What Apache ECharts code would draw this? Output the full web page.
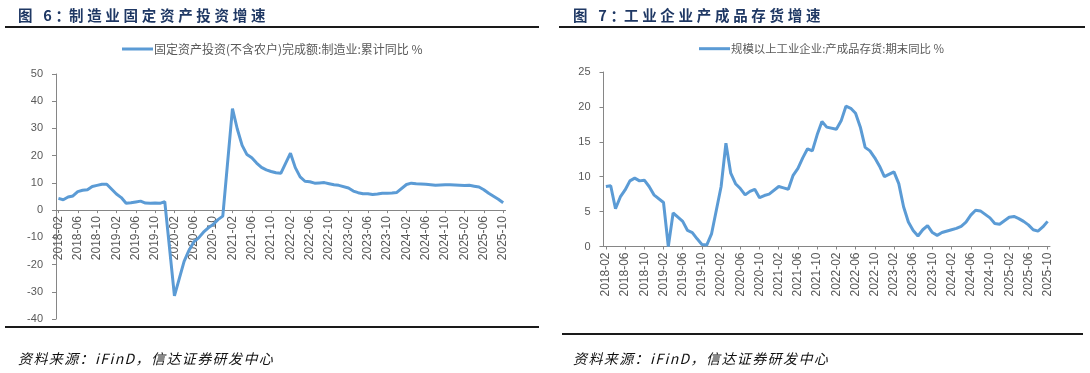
<!DOCTYPE html>
<html><head><meta charset="utf-8">
<script src="https://cdn.jsdelivr.net/npm/echarts@6/dist/echarts.min.js"></script>
<style>
body{margin:0;background:#fff;}
#wrap{position:relative;width:1090px;height:373px;overflow:hidden;background:#fff;}
#chart{position:absolute;left:0;top:0;width:1090px;height:373px;}
.t{position:absolute;font-family:"Noto Sans CJK SC";font-weight:bold;font-size:14.5px;line-height:20px;letter-spacing:3.7px;color:#1f3864;white-space:nowrap;}
.t .c{letter-spacing:-1px;}
.s{position:absolute;font-family:"Noto Sans CJK SC";font-style:italic;font-size:14px;line-height:18px;letter-spacing:1.4px;color:#111;white-space:nowrap;}
.r{position:absolute;height:2px;background:#1a1a1a;}
</style></head>
<body><div id="wrap"><div id="chart"></div>
<div class="t" style="left:18px;top:5px;">图 6<span class="c">：</span>制造业固定资产投资增速</div>
<div class="t" style="left:573px;top:5px;">图 7<span class="c">：</span>工业企业产成品存货增速</div>
<div class="r" style="left:5px;top:26px;width:534px;"></div>
<div class="r" style="left:559px;top:26px;width:526px;"></div>
<div class="r" style="left:5px;top:326px;width:534px;"></div>
<div class="r" style="left:562px;top:333px;width:521px;"></div>
<div class="s" style="left:18px;top:349px;">资料来源：iFinD，信达证券研发中心</div>
<div class="s" style="left:573px;top:349px;">资料来源：iFinD，信达证券研发中心</div>
</div>
<script>
var months = [
'2018-02','2018-03','2018-04','2018-05','2018-06','2018-07','2018-08','2018-09','2018-10','2018-11','2018-12',
'2019-01','2019-02','2019-03','2019-04','2019-05','2019-06','2019-07','2019-08','2019-09','2019-10','2019-11','2019-12',
'2020-01','2020-02','2020-03','2020-04','2020-05','2020-06','2020-07','2020-08','2020-09','2020-10','2020-11','2020-12',
'2021-01','2021-02','2021-03','2021-04','2021-05','2021-06','2021-07','2021-08','2021-09','2021-10','2021-11','2021-12',
'2022-01','2022-02','2022-03','2022-04','2022-05','2022-06','2022-07','2022-08','2022-09','2022-10','2022-11','2022-12',
'2023-01','2023-02','2023-03','2023-04','2023-05','2023-06','2023-07','2023-08','2023-09','2023-10','2023-11','2023-12',
'2024-01','2024-02','2024-03','2024-04','2024-05','2024-06','2024-07','2024-08','2024-09','2024-10','2024-11','2024-12',
'2025-01','2025-02','2025-03','2025-04','2025-05','2025-06','2025-07','2025-08','2025-09','2025-10'];

var fiName = '固定资产投资(不含农户)完成额:制造业:累计同比 %';
var fiValues = [
4.3,3.8,4.8,5.2,6.8,7.3,7.5,8.7,9.1,9.5,9.5,
null,5.9,4.6,2.5,2.7,3.0,3.3,2.6,2.5,2.6,2.5,3.1,
null,-31.5,-25.2,-18.8,-14.8,-11.7,-10.2,-8.1,-6.5,-5.3,-3.5,-2.2,
null,37.3,29.8,23.8,20.4,19.2,17.3,15.7,14.8,14.2,13.7,13.5,
null,20.9,15.6,12.2,10.6,10.4,9.9,10.0,10.1,9.7,9.3,9.1,
null,8.1,7.0,6.4,6.0,6.0,5.7,5.9,6.2,6.2,6.3,6.5,
null,9.4,9.9,9.7,9.6,9.5,9.3,9.1,9.2,9.3,9.3,9.2,
null,9.0,9.1,8.8,8.5,7.5,6.2,5.1,4.0,2.7];

var invName = '规模以上工业企业:产成品存货:期末同比 %';
var invValues = [
8.6,8.7,5.4,7.1,8.1,9.4,9.8,9.4,9.5,8.6,7.4,
null,6.3,0.0,4.8,4.2,3.6,2.3,2.0,1.1,0.3,0.2,1.8,
null,8.6,14.8,10.5,9.0,8.3,7.4,7.9,8.2,7.0,7.3,7.5,
null,8.6,8.4,8.2,10.2,11.2,12.7,14.0,13.7,16.0,17.9,17.1,
null,16.8,18.0,20.1,19.8,19.1,17.1,14.2,13.7,12.7,11.5,10.0,
null,10.7,9.0,5.7,3.5,2.3,1.5,2.4,3.0,2.0,1.6,2.0,
null,2.4,2.6,2.9,3.5,4.5,5.2,5.1,4.6,4.1,3.3,3.2,
null,4.2,4.3,4.0,3.6,3.1,2.4,2.2,2.8,3.6];

var leftTicks = {min:-40, max:50, interval:10};
var rightTicks = {min:0, max:25, interval:5};

var axisColor = '#868686';
var labelColor = '#595959';
var lineColor = '#5b9bd5';

// left grid geometry: x axis sits on the zero line
var gL = {left:56, top:74, width:449.6, height:245};
var gR = {left:603.5, top:72, width:446.5, height:174.5};
var zeroOffsetL = -(gL.height * (0 - leftTicks.min) / (leftTicks.max - leftTicks.min));

function xAxisCfg(gi, off){
  return {
    type:'category', gridIndex:gi, data:months, boundaryGap:true, offset:off,
    axisLine:{show:true, onZero:false, lineStyle:{color:axisColor, width:1}},
    axisTick:{show:true, alignWithLabel:true, interval:3, length:3, lineStyle:{color:axisColor}},
    axisLabel:{interval:3, rotate:90, margin:6, fontSize:12, color:labelColor, fontFamily:'Liberation Sans'},
    splitLine:{show:false}
  };
}
function yAxisCfg(gi, t){
  return {
    type:'value', gridIndex:gi, min:t.min, max:t.max, interval:t.interval,
    axisLine:{show:true, lineStyle:{color:axisColor, width:1}},
    axisTick:{show:true, length:4, lineStyle:{color:axisColor}},
    axisLabel:{margin:13, fontSize:11, color:labelColor, fontFamily:'Liberation Sans'},
    splitLine:{show:false}
  };
}
function legendCfg(left, name, fs){
  return {
    left:left, top:38, data:[name], icon:'rect', itemWidth:31, itemHeight:3,
    selectedMode:false,
    textStyle:{fontSize:fs, color:labelColor, fontFamily:'Noto Sans CJK SC', padding:[0,0,0,-4]}
  };
}

var chart = echarts.init(document.getElementById('chart'), null, {renderer:'canvas'});
chart.setOption({
  animation:false,
  legend:[legendCfg(117, fiName, 12), legendCfg(694, invName, 11.4)],
  grid:[
    {left:gL.left, top:gL.top, width:gL.width, height:gL.height, containLabel:false, outerBoundsMode:'none'},
    {left:gR.left, top:gR.top, width:gR.width, height:gR.height, containLabel:false, outerBoundsMode:'none'}
  ],
  xAxis:[xAxisCfg(0, zeroOffsetL), xAxisCfg(1, 0)],
  yAxis:[yAxisCfg(0, leftTicks), yAxisCfg(1, rightTicks)],
  series:[
    {name:fiName, type:'line', xAxisIndex:0, yAxisIndex:0, data:fiValues, connectNulls:true,
     symbol:'none', lineStyle:{color:lineColor, width:3}, itemStyle:{color:lineColor}},
    {name:invName, type:'line', xAxisIndex:1, yAxisIndex:1, data:invValues, connectNulls:true,
     symbol:'none', lineStyle:{color:lineColor, width:3}, itemStyle:{color:lineColor}}
  ]
});
</script>
</body></html>
